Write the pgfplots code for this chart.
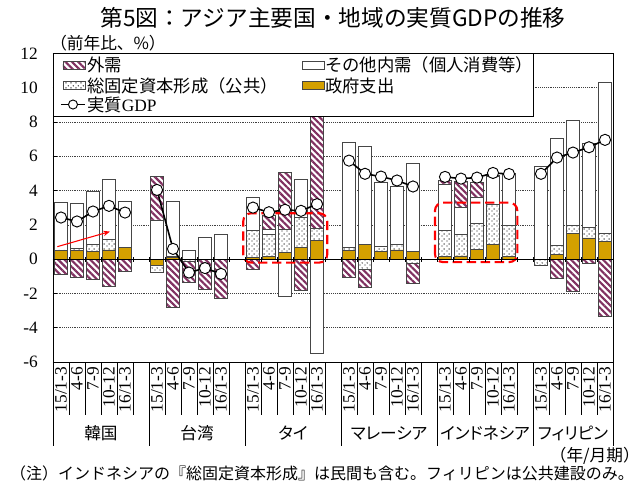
\documentclass[border=0pt]{standalone}
\usepackage{fontspec}
\setmainfont{Liberation Serif}
\newfontfamily\cjk{Noto Sans CJK JP}
\newfontfamily\cjkp[RawFeature=+palt]{Noto Sans CJK JP}
\usepackage{pgfplots}
\pgfplotsset{compat=1.18}
\usepackage{pgfplotstable}
\usetikzlibrary{patterns,patterns.meta,arrows.meta}

\definecolor{gov}{RGB}{212,160,0}
\definecolor{ext}{RGB}{128,48,96}
\definecolor{edge}{RGB}{70,70,70}

% sparse dots for the public investment bars
\pgfdeclarepatternformonly{sdots}{\pgfpoint{0pt}{0pt}}{\pgfpoint{3.5pt}{3.5pt}}{\pgfpoint{3.5pt}{3.5pt}}{%
  \pgfpathcircle{\pgfpoint{0.8pt}{0.8pt}}{0.55pt}%
  \pgfpathcircle{\pgfpoint{2.55pt}{2.4pt}}{0.55pt}%
  \pgfusepath{fill}}

\tikzset{
  sgov/.style={fill=gov, draw=edge, line width=0.6pt},
  sgfcf/.style={preaction={fill=white}, pattern=sdots, pattern color=black!85, draw=edge, line width=0.6pt},
  soth/.style={fill=white, draw=edge, line width=0.6pt},
  sext/.style={preaction={fill=white}, pattern={Lines[angle=-45,distance=3.4pt,line width=1.6pt]}, pattern color=ext, draw=edge, line width=0.6pt},
}

\pgfplotsset{
  base/.style={scale only axis, width=420pt, height=231.375pt,
    xmin=-0.5, xmax=34.5, ymin=-6, ymax=12, at={(0pt,0pt)}, anchor=south west},
}

% positive (p) and negative (n) parts: gp = 政府支出, dp = 総固定資本形成, wp = その他内需, hp = 外需
\pgfplotstableread{
x  gp   dp   wp   hp    gn    dn    wn    hn
0  0.49 0.05 2.78 0     0     0     0     -0.91
1  0.49 0.16 2.58 0     0     0     0     -1.05
2  0.45 0.39 3.14 0     0     0     0     -1.20
3  0.54 0.62 3.47 0     0     0     0     -1.59
4  0.66 0.05 2.67 0     0     0     0     -0.72
6  0    0    2.29 2.53  -0.39 -0.37 0     0
7  0.08 0.08 3.22 0     0     0     0     -2.82
8  0    0    0.54 0     0     -0.15 0     -1.21
9  0    0    1.28 0     0     0     0     -1.79
10 0    0    1.46 0     0     0     0     -2.27
12 0.10 1.55 1.97 0     0     0     0     -0.62
13 0.15 1.27 0.29 0.82  0     0     0     0
14 0.41 1.34 0    3.30  0     0     -2.18 0
15 0.70 1.75 2.21 0     0     0     0     -1.83
16 1.09 0.72 0    6.92  0     0     -5.52 0
18 0.51 0.19 6.12 0     0     0     0     -1.09
19 0.86 0    5.71 0     0     -0.58 0     -1.05
20 0.43 0.31 3.73 0     0     0     0     0
21 0.54 0.30 3.40 0     0     0     0     0
22 0.47 0    5.09 0     0     -0.23 0     -1.21
24 0.17 1.50 2.72 0.20  0     0     0     0
25 0.19 1.25 1.57 1.52  0     0     0     0
26 0.58 1.52 1.50 0.87  0     0     0     0
27 0.86 2.31 1.65 0.05  0     0     0     0
28 0.17 1.79 3.02 0     0     0     0     0
30 0    0    5.40 0     0     -0.39 0     0
31 0.27 0.53 6.22 0     0     0     0     -1.11
32 1.52 0.44 6.13 0     0     0     0     -1.89
33 1.24 0.63 4.89 0     0     0     0     -0.27
34 1.05 0.47 8.78 0     0     0     0     -3.34
}\bars

\pgfplotstableread{
x  gdp
0  2.43
1  2.20
2  2.78
3  3.11
4  2.72
5  nan
6  4.04
7  0.60
8  -0.78
9  -0.52
10 -0.86
11 nan
12 3.01
13 2.74
14 2.88
15 2.82
16 3.21
17 nan
18 5.75
19 4.98
20 4.82
21 4.59
22 4.24
23 nan
24 4.80
25 4.70
26 4.76
27 5.03
28 4.97
29 nan
30 4.98
31 5.93
32 6.22
33 6.53
34 6.96
}\gdp

\begin{document}
\begin{tikzpicture}
\useasboundingbox (-39.75pt,-96pt) rectangle (441.75pt,271.5pt);

% positive parts, grid, ticks and category labels
\begin{axis}[base, ybar stacked, bar width=9.4pt, clip=false,
  axis line style={black, line width=0.7pt},
  ytick={-6,-4,...,12}, ymajorgrids,
  grid style={densely dotted, black!75, line width=0.5pt},
  ytick pos=left, tick align=inside, major tick length=3pt,
  ytick style={black, line width=0.5pt},
  /pgf/number format/assume math mode=true,
  yticklabel style={font=\fontsize{13pt}{15pt}\selectfont, inner sep=0pt, xshift=-11.25pt},
  xtick={0,1,2,3,4,6,7,8,9,10,12,13,14,15,16,18,19,20,21,22,24,25,26,27,28,30,31,32,33,34},
  xticklabels={15/1-3,4-6,7-9,10-12,16/1-3,15/1-3,4-6,7-9,10-12,16/1-3,15/1-3,4-6,7-9,10-12,16/1-3,
               15/1-3,4-6,7-9,10-12,16/1-3,15/1-3,4-6,7-9,10-12,16/1-3,15/1-3,4-6,7-9,10-12,16/1-3},
  xtick style={draw=none},
  xticklabel style={font=\fontsize{13pt}{15pt}\selectfont, rotate=90, anchor=east, inner sep=3.5pt},
]
\addplot[sgov]  table[x=x, y=gp] {\bars};
\addplot[sgfcf] table[x=x, y=dp] {\bars};
\addplot[soth]  table[x=x, y=wp] {\bars};
\addplot[sext]  table[x=x, y=hp] {\bars};

\pgfplotsinvokeforeach{-0.5,0.5,...,34.5}{\draw[black, line width=0.6pt] (axis cs:#1,-6) -- ++(0pt,-39.75pt);}
\pgfplotsinvokeforeach{-0.5,5.5,11.5,17.5,23.5,29.5,34.5}{\draw[black, line width=0.6pt] (axis cs:#1,-6) -- ++(0pt,-63pt);}

\node[font=\cjkp\fontsize{12.5pt}{14pt}\selectfont, yshift=-53.25pt] at (axis cs:2.5,-6) {韓国};
\node[font=\cjkp\fontsize{12.5pt}{14pt}\selectfont, yshift=-53.25pt] at (axis cs:8.5,-6) {台湾};
\node[font=\cjkp\fontsize{12.5pt}{14pt}\selectfont, yshift=-53.25pt] at (axis cs:14.5,-6) {タイ};
\node[font=\cjkp\fontsize{12.5pt}{14pt}\selectfont, yshift=-53.25pt] at (axis cs:20.5,-6) {マレーシア};
\node[font=\cjkp\fontsize{12.5pt}{14pt}\selectfont, yshift=-53.25pt] at (axis cs:26.5,-6) {インドネシア};
\node[font=\cjkp\fontsize{12.5pt}{14pt}\selectfont, yshift=-53.25pt] at (axis cs:32,-6) {フィリピン};
\end{axis}

% negative parts
\begin{axis}[base, hide axis, ybar stacked, bar width=9.4pt]
\addplot[sgov]  table[x=x, y=gn] {\bars};
\addplot[sgfcf] table[x=x, y=dn] {\bars};
\addplot[soth]  table[x=x, y=wn] {\bars};
\addplot[sext]  table[x=x, y=hn] {\bars};
\end{axis}

% zero line, highlights and real GDP
\begin{axis}[base, hide axis, unbounded coords=jump]
\draw[red, line width=1.6pt, dash pattern=on 7pt off 3.5pt, rounded corners=6pt]
  (axis cs:11.39,-0.2) rectangle (axis cs:16.64,2.68);
\draw[red, line width=1.6pt, dash pattern=on 7pt off 3.5pt, rounded corners=6pt]
  (axis cs:23.375,-0.17) rectangle (axis cs:28.52,3.3);
\draw[red, line width=0.8pt, -{Stealth[length=5pt,width=4pt]}] (axis cs:-0.23,0.73) -- (axis cs:3.06,1.61);
\draw[black, line width=0.8pt] (axis cs:-0.5,0) -- (axis cs:34.5,0);
\pgfplotsinvokeforeach{-0.5,0.5,...,34.5}{\draw[black, line width=0.5pt] (axis cs:#1,0) ++(0pt,-2pt) -- ++(0pt,4pt);}
\addplot[black, line width=1.2pt, mark=*, mark size=4.2pt,
  mark options={fill=white, draw=black, line width=0.7pt, solid}] table[x=x, y=gdp] {\gdp};
\end{axis}

% legend
\draw[black, line width=0.6pt, fill=white] (0pt,184.5pt) rectangle (360pt,231.375pt);
\path[sext]  (7.5pt,219.75pt) rectangle (24pt,225.75pt);
\path[sgfcf] (7.5pt,204.4pt) rectangle (24pt,210.4pt);
\draw[black, line width=1.2pt] (6pt,193.1pt) -- (24pt,193.1pt);
\draw[black, line width=0.7pt, fill=white] (15pt,193.1pt) circle (3.4pt);
\path[soth]  (186.75pt,219.75pt) rectangle (203.25pt,225.75pt);
\path[sgov]  (186.75pt,204.4pt) rectangle (203.25pt,210.4pt);
\begin{scope}[every node/.style={anchor=west, inner sep=0pt, font=\cjk\fontsize{13pt}{15pt}\selectfont}]
\node at (25.5pt,222.75pt) {外需};
\node at (25.5pt,207.4pt) {総固定資本形成（公共）};
\node at (25.5pt,193.1pt) {実質{\rmfamily GDP}};
\node at (204pt,222.75pt) {その他内需（個人消費等）};
\node at (204pt,207.4pt) {政府支出};
\end{scope}

% titles and notes
\node[font=\cjk\fontsize{17pt}{19pt}\selectfont] at (210pt,258pt) {第5図：アジア主要国・地域の実質GDPの推移};
\node[anchor=west, inner sep=0pt, font=\cjk\fontsize{12.5pt}{14pt}\selectfont] at (-2.25pt,239.25pt) {（前年比、\%）};
\node[anchor=east, inner sep=0pt, font=\cjk\fontsize{12.5pt}{14pt}\selectfont] at (440.25pt,-70.5pt) {（年/月期）};
\node[inner sep=0pt, font=\cjk\fontsize{12pt}{14pt}\selectfont] at (201.75pt,-83.25pt) {（注）インドネシアの『総固定資本形成』は民間も含む。フィリピンは公共建設のみ。};
\end{tikzpicture}
\end{document}
